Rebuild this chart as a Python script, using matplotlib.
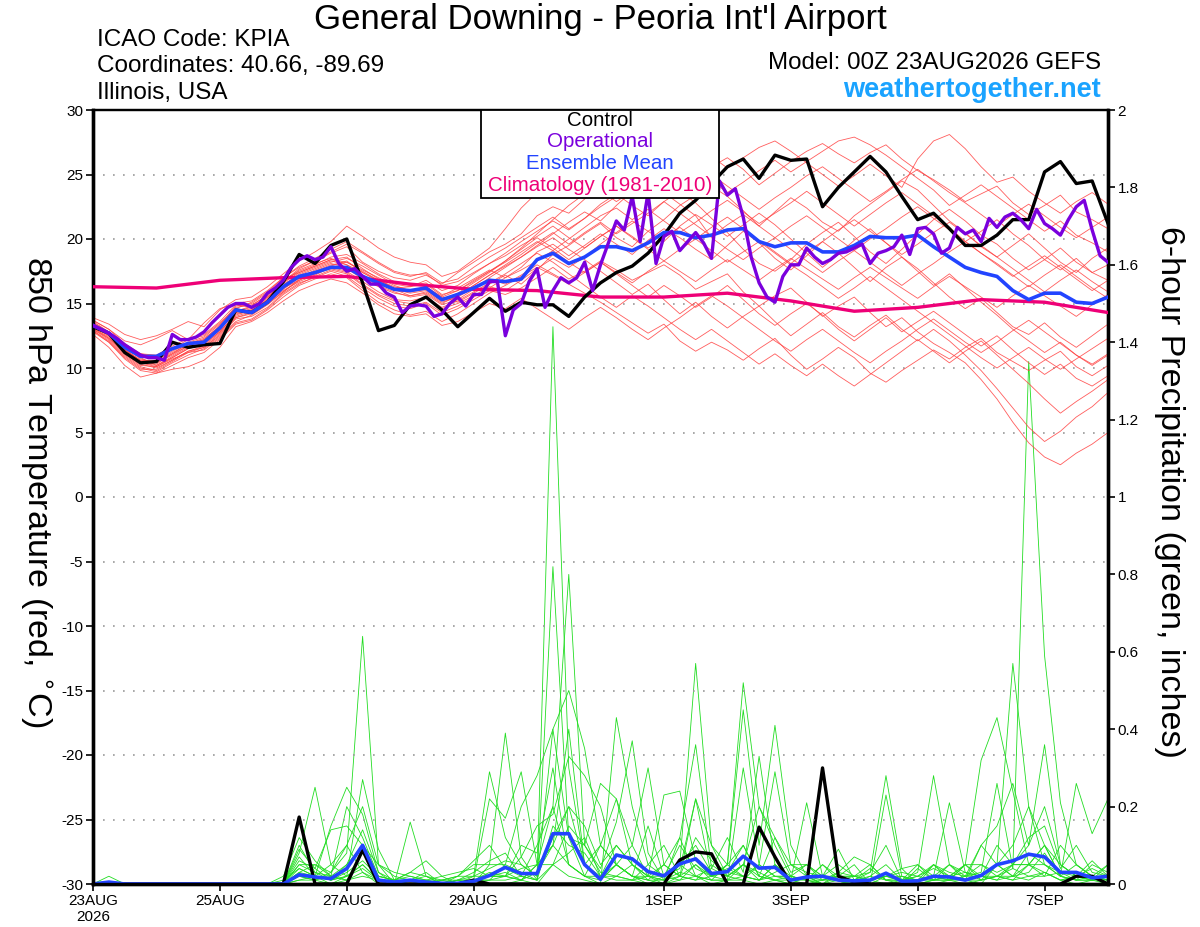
import numpy as np
import matplotlib
matplotlib.use('Agg')
import matplotlib.pyplot as plt
from matplotlib.patches import Rectangle

plt.rcParams['font.family'] = ['Liberation Sans', 'DejaVu Sans']
plt.rcParams['axes.unicode_minus'] = False

# forecast hours
hours = np.arange(65) * 6
op_hours = np.arange(129) * 3
clim_hours = np.arange(17) * 24

day_ticks = [0, 48, 96, 144, 216, 264, 312, 360]
day_labels = ['23AUG\n2026', '25AUG', '27AUG', '29AUG', '1SEP', '3SEP', '5SEP', '7SEP']

# 850 hPa temperature (C)
control_temp = [13.2, 12.7, 11.2, 10.4, 10.5, 12.0, 11.6, 11.8, 11.9, 14.5, 14.3, 15.1, 16.7,
                18.8, 18.1, 19.5, 20.0, 16.6, 12.9, 13.3, 14.9, 15.5, 14.5, 13.2, 14.3, 15.4,
                14.4, 15.1, 14.9, 14.9, 14.0, 15.5, 16.6, 17.4, 17.9, 18.9, 20.3, 22.0, 23.0,
                24.3, 25.6, 26.2, 24.7, 26.5, 26.1, 26.2, 22.5, 24.0, 25.2, 26.4, 25.2, 23.3,
                21.5, 22.0, 20.8, 19.5, 19.5, 20.3, 21.5, 21.5, 25.2, 26.0, 24.3, 24.5, 21.2]

mean_temp = [13.3, 12.7, 11.6, 10.9, 10.9, 11.5, 11.9, 12.0, 13.1, 14.5, 14.3, 15.1, 16.3,
             17.1, 17.4, 17.8, 17.8, 17.1, 16.6, 16.1, 16.0, 16.2, 15.3, 15.7, 16.2, 16.8,
             16.7, 16.9, 18.4, 18.9, 18.1, 18.6, 19.4, 19.4, 19.1, 19.7, 20.5, 20.5, 20.1,
             20.3, 20.7, 20.8, 19.8, 19.4, 19.7, 19.7, 19.0, 19.0, 19.5, 20.2, 20.1, 20.1,
             20.3, 19.4, 18.6, 17.8, 17.4, 17.1, 16.0, 15.3, 15.8, 15.8, 15.1, 15.0, 15.5]

op_temp = [13.3, 13.0, 12.7, 12.3, 11.8, 11.4, 11.0, 10.8, 10.8, 10.6, 12.6, 12.2, 12.2,
           12.4, 12.8, 13.5, 14.1, 14.7, 15.0, 15.0, 14.7, 15.0, 15.8, 16.2, 16.8, 17.8,
           18.4, 18.7, 18.4, 18.6, 19.4, 18.1, 17.5, 17.7, 17.1, 16.5, 16.5, 15.8, 15.5,
           14.3, 14.8, 14.9, 14.8, 14.0, 14.2, 15.0, 15.5, 14.8, 15.7, 15.7, 16.7, 16.7,
           12.5, 14.5, 15.0, 16.7, 17.7, 14.7, 16.0, 17.0, 16.6, 17.0, 18.2, 16.0, 18.0,
           19.7, 21.4, 20.7, 23.3, 19.8, 23.6, 18.1, 20.2, 20.6, 19.1, 19.8, 20.5, 19.7,
           18.5, 24.5, 23.4, 23.9, 21.7, 18.6, 16.6, 15.5, 15.1, 17.1, 18.0, 18.0, 19.3,
           18.6, 18.1, 18.4, 18.9, 19.0, 19.3, 19.6, 18.1, 18.9, 19.1, 19.4, 20.3, 18.8,
           20.8, 20.9, 20.4, 18.9, 19.3, 20.9, 20.4, 20.7, 19.8, 21.6, 20.9, 21.7, 22.0,
           21.5, 20.8, 22.3, 21.2, 20.8, 20.3, 21.5, 22.5, 23.0, 20.7, 18.7, 18.2]

clim_temp = [16.3, 16.2, 16.8, 17.0, 17.1, 16.5, 16.1, 16.0, 15.5, 15.5, 15.8, 15.2,
             14.4, 14.7, 15.3, 15.1, 14.3]

members_temp = [
    [13.7, 13.0, 12.1, 11.8, 12.3, 12.9, 12.2, 13.5, 14.6, 15.0, 15.2, 16.0, 17.0,
     17.8, 18.3, 18.9, 19.4, 18.2, 17.5, 17.0, 16.8, 17.2, 16.5, 17.4, 18.2, 19.0,
     19.6, 20.4, 21.8, 22.5, 22.0, 23.1, 24.2, 24.8, 23.9, 24.6, 25.4, 25.9, 24.8,
     25.6, 26.3, 25.4, 24.2, 25.1, 26.0, 26.8, 27.4, 26.6, 25.9, 26.7, 27.3, 26.2,
     25.3, 24.6, 23.8, 22.9, 23.5, 24.1, 22.8, 21.9, 22.6, 23.4, 22.1, 21.5, 20.8],
    [13.0, 12.2, 11.0, 10.1, 9.8, 10.5, 11.2, 11.6, 12.5, 13.8, 14.0, 14.7, 15.8,
     16.6, 17.0, 17.5, 17.1, 16.2, 15.4, 14.8, 14.6, 15.0, 14.1, 14.6, 15.3, 16.0,
     15.7, 16.2, 17.0, 17.8, 16.9, 17.5, 18.3, 17.6, 16.8, 17.4, 18.0, 17.2, 16.1,
     16.7, 17.3, 15.9, 14.8, 15.6, 16.2, 15.1, 14.0, 14.8, 15.5, 14.3, 13.2, 13.9,
     12.8, 11.9, 11.2, 10.4, 9.1, 7.6, 5.8, 4.2, 3.1, 2.5, 3.4, 4.1, 5.0],
    [12.8, 12.0, 10.7, 9.8, 9.6, 10.2, 10.8, 11.2, 12.2, 13.4, 13.7, 14.5, 15.5,
     16.4, 16.9, 17.3, 17.0, 16.0, 15.1, 14.5, 14.1, 14.4, 13.6, 14.2, 15.0, 15.8,
     16.4, 17.1, 17.8, 17.2, 16.5, 15.8, 15.1, 14.3, 13.5, 12.7, 13.4, 12.1, 11.3,
     12.0, 11.4, 10.6, 11.5, 12.3, 11.0, 9.9, 10.7, 11.6, 10.8, 9.6, 8.9, 9.8,
     10.6, 11.4, 10.7, 11.6, 12.3, 11.2, 10.5, 9.8, 10.6, 11.3, 10.1, 9.4, 10.2],
    [13.4, 12.6, 11.4, 10.6, 10.5, 11.2, 11.8, 12.1, 13.0, 14.3, 14.6, 15.4, 16.6,
     17.6, 18.1, 18.5, 18.0, 17.4, 16.8, 16.2, 16.3, 16.8, 16.0, 16.4, 17.3, 18.1,
     18.9, 19.8, 20.6, 21.4, 20.7, 21.6, 22.7, 23.5, 22.6, 21.8, 22.9, 23.7, 22.8,
     21.6, 20.5, 19.2, 18.1, 17.5, 18.4, 19.6, 20.5, 21.3, 20.2, 19.0, 18.1, 19.2,
     20.4, 21.5, 22.3, 21.4, 20.3, 19.6, 18.5, 17.6, 18.4, 19.3, 18.2, 17.4, 18.0],
    [13.2, 12.5, 11.5, 10.8, 10.2, 10.8, 11.5, 11.9, 12.8, 14.1, 14.5, 15.2, 16.2,
     16.8, 17.5, 18.0, 18.2, 17.6, 17.0, 16.4, 16.0, 16.3, 15.5, 15.1, 15.8, 16.5,
     17.2, 16.5, 17.6, 18.8, 19.5, 20.4, 21.2, 20.1, 19.4, 20.6, 21.5, 22.6, 23.4,
     24.1, 23.3, 22.2, 21.0, 22.1, 23.2, 22.4, 21.3, 20.6, 21.8, 22.7, 23.6, 24.5,
     23.8, 22.6, 21.4, 20.5, 19.4, 18.6, 19.5, 20.4, 19.3, 18.2, 17.4, 18.5, 19.3],
    [13.5, 12.8, 11.6, 10.7, 10.4, 11.0, 11.7, 12.2, 13.3, 14.8, 15.0, 15.8, 16.9,
     17.4, 17.9, 18.4, 18.6, 17.7, 16.9, 16.1, 15.6, 15.8, 15.0, 15.6, 16.4, 17.2,
     17.9, 18.6, 19.4, 20.1, 19.2, 18.4, 17.5, 16.6, 15.7, 16.5, 15.3, 14.2, 15.1,
     14.0, 13.1, 14.0, 14.8, 13.6, 12.5, 13.4, 14.3, 13.2, 12.4, 13.3, 14.1, 13.0,
     12.1, 13.0, 12.1, 11.0, 9.8, 8.4, 6.9, 5.4, 4.3, 5.1, 6.2, 7.0, 8.1],
    [13.1, 12.4, 11.2, 10.3, 10.0, 10.6, 11.3, 11.6, 12.6, 13.9, 14.2, 15.0, 16.1,
     17.0, 17.6, 18.1, 17.8, 17.0, 16.4, 15.9, 15.5, 15.7, 14.9, 15.3, 16.1, 17.0,
     17.8, 18.6, 19.5, 20.4, 21.3, 22.1, 21.4, 22.6, 23.7, 24.5, 23.6, 24.4, 25.3,
     24.5, 23.6, 24.4, 25.3, 26.1, 25.2, 26.0, 26.8, 27.6, 27.9, 27.3, 26.5, 25.6,
     24.7, 23.8, 22.6, 23.4, 24.2, 23.3, 22.4, 21.5, 20.6, 21.4, 20.3, 19.7, 19.0],
    [13.7, 13.0, 11.9, 11.1, 11.0, 11.7, 12.3, 12.6, 13.6, 14.9, 14.7, 15.5, 16.5,
     17.2, 17.7, 18.2, 18.5, 17.9, 17.2, 16.5, 16.3, 16.5, 15.6, 16.2, 16.9, 17.6,
     17.0, 17.8, 19.0, 19.6, 18.7, 19.5, 20.4, 19.6, 18.8, 19.9, 20.8, 20.1, 19.2,
     18.4, 19.5, 20.6, 19.7, 18.5, 17.6, 18.7, 19.8, 18.9, 17.8, 16.7, 17.8, 18.6,
     17.7, 16.6, 15.5, 14.6, 15.4, 14.3, 13.2, 12.6, 13.5, 12.4, 11.6, 12.5, 13.4],
    [12.9, 12.1, 10.9, 10.0, 9.7, 10.4, 11.0, 11.5, 12.4, 13.6, 14.1, 14.9, 15.9,
     16.9, 17.3, 17.7, 17.4, 16.5, 15.7, 15.2, 15.0, 15.4, 14.6, 15.0, 15.6, 16.3,
     16.0, 16.8, 17.7, 18.5, 17.8, 18.6, 19.6, 20.5, 21.4, 20.6, 19.8, 21.0, 21.9,
     21.1, 20.2, 21.1, 22.0, 21.1, 20.0, 18.9, 17.8, 18.8, 19.9, 20.8, 19.7, 18.6,
     17.5, 16.4, 17.3, 16.2, 15.1, 14.1, 13.0, 12.1, 11.2, 12.0, 11.0, 10.3, 11.1],
    [13.3, 12.7, 11.7, 11.1, 10.9, 11.4, 12.0, 12.4, 13.4, 14.7, 14.9, 15.6, 16.7,
     17.7, 18.3, 19.0, 19.6, 18.9, 18.1, 17.4, 17.1, 17.4, 16.6, 16.9, 17.8, 18.6,
     19.3, 20.1, 20.9, 21.7, 20.8, 21.6, 22.5, 23.3, 24.2, 25.0, 24.1, 24.9, 25.8,
     26.4, 25.5, 26.3, 27.1, 27.6, 26.8, 25.9, 25.0, 24.1, 24.9, 25.8, 24.9, 24.0,
     26.2, 27.6, 28.1, 27.0, 25.6, 24.4, 24.8, 23.7, 22.8, 22.0, 22.9, 23.6, 22.7],
    [13.0, 12.3, 11.1, 10.2, 10.1, 10.7, 11.2, 11.4, 12.3, 13.5, 13.8, 14.6, 15.7,
     16.5, 17.1, 17.6, 17.3, 16.4, 15.6, 15.0, 14.8, 15.1, 14.3, 14.8, 15.5, 16.2,
     17.0, 17.6, 18.3, 19.1, 18.2, 17.4, 18.2, 17.3, 16.4, 15.5, 16.4, 15.6, 14.7,
     15.5, 16.4, 15.3, 14.2, 13.3, 14.2, 15.0, 14.1, 13.0, 12.1, 13.0, 13.9, 12.8,
     13.6, 14.4, 13.5, 12.6, 11.7, 12.5, 11.4, 10.4, 9.5, 10.3, 9.2, 8.6, 9.4],
    [13.6, 12.8, 11.5, 10.5, 10.3, 11.1, 11.9, 12.3, 13.2, 14.4, 14.8, 15.7, 16.8,
     17.5, 18.0, 18.6, 18.8, 18.1, 17.3, 16.7, 16.4, 16.6, 15.7, 16.0, 16.8, 17.5,
     18.2, 19.0, 19.8, 19.1, 20.0, 20.9, 21.8, 22.4, 21.5, 22.3, 21.4, 20.5, 21.3,
     22.2, 23.0, 22.1, 21.2, 22.0, 22.8, 23.7, 22.8, 21.9, 21.0, 21.9, 22.8, 23.6,
     22.7, 21.8, 20.9, 19.8, 20.6, 21.5, 20.4, 19.5, 18.4, 17.6, 18.5, 17.4, 16.8],
    [13.1, 12.3, 11.2, 10.4, 10.2, 10.9, 11.6, 12.0, 12.9, 14.0, 14.4, 15.1, 16.0,
     16.7, 17.2, 17.8, 17.5, 16.7, 15.9, 15.3, 15.2, 15.5, 14.7, 15.2, 15.9, 16.6,
     17.3, 18.1, 18.9, 18.2, 17.3, 16.4, 15.5, 14.7, 15.6, 14.8, 13.9, 13.0, 12.2,
     13.0, 12.1, 11.2, 10.3, 11.1, 10.2, 9.4, 10.3, 9.4, 8.6, 9.5, 10.4, 11.3,
     12.2, 11.3, 10.4, 11.3, 12.1, 11.0, 9.9, 8.8, 7.6, 6.5, 7.4, 8.2, 9.1],
    [13.4, 12.6, 11.3, 10.4, 10.1, 10.8, 11.5, 11.8, 12.8, 14.2, 14.4, 15.3, 16.4,
     17.3, 17.8, 18.3, 18.0, 17.2, 16.6, 16.0, 15.9, 16.1, 15.3, 15.8, 16.6, 17.4,
     18.3, 19.3, 20.4, 21.5, 22.6, 23.5, 24.4, 25.1, 24.2, 23.3, 24.2, 25.0, 25.9,
     25.0, 24.1, 23.2, 22.3, 23.2, 24.0, 24.9, 25.6, 24.7, 23.8, 22.9, 23.7, 24.6,
     25.4, 24.5, 23.6, 22.8, 21.9, 21.0, 21.9, 22.7, 21.8, 20.9, 20.1, 20.9, 21.7],
    [13.2, 12.5, 11.4, 10.6, 10.6, 11.3, 11.9, 12.2, 13.0, 14.3, 14.5, 15.3, 16.3,
     17.0, 17.4, 17.9, 17.7, 16.9, 16.3, 15.8, 15.6, 15.9, 15.1, 15.5, 16.2, 16.9,
     16.5, 17.2, 18.0, 17.3, 16.6, 17.4, 18.2, 17.4, 16.6, 17.5, 18.3, 17.5, 16.7,
     17.6, 18.4, 17.6, 16.8, 17.7, 18.5, 17.7, 16.9, 16.1, 17.0, 17.8, 17.0, 16.2,
     15.4, 16.3, 17.1, 16.3, 15.5, 14.7, 15.6, 16.4, 15.6, 14.8, 14.0, 14.9, 15.7],
    [13.5, 12.7, 11.6, 10.9, 10.7, 11.5, 12.2, 12.5, 13.5, 14.6, 15.1, 15.9, 17.0,
     17.9, 18.5, 19.2, 19.8, 19.0, 18.2, 17.5, 17.2, 17.3, 16.4, 16.7, 17.4, 18.1,
     18.7, 19.5, 20.2, 21.0, 20.1, 19.3, 20.2, 21.0, 20.2, 19.3, 20.1, 20.9, 20.0,
     19.1, 18.2, 19.0, 19.8, 18.9, 18.0, 17.2, 16.3, 15.4, 16.2, 17.1, 16.2, 15.3,
     14.4, 13.5, 12.6, 11.7, 10.8, 10.0, 10.8, 11.6, 10.7, 9.9, 10.7, 11.5, 12.3],
    [12.9, 12.0, 10.8, 9.9, 9.9, 10.6, 11.3, 11.7, 12.7, 13.9, 14.3, 15.0, 15.9,
     16.8, 17.3, 17.9, 18.3, 17.4, 16.7, 16.1, 15.8, 16.0, 15.2, 15.6, 16.4, 17.2,
     18.0, 18.8, 19.7, 20.5, 19.6, 20.5, 21.3, 20.4, 21.2, 22.0, 22.9, 22.0, 21.1,
     20.2, 21.1, 21.9, 21.0, 20.1, 21.0, 21.8, 20.9, 20.0, 19.1, 20.0, 20.8, 21.7,
     22.5, 21.6, 20.7, 19.8, 18.9, 18.1, 17.2, 16.3, 17.2, 18.0, 17.1, 16.2, 15.4],
    [13.9, 13.4, 12.6, 12.2, 12.5, 13.0, 13.6, 13.2, 14.5, 15.3, 15.5, 16.3, 17.3,
     18.3, 19.0, 19.8, 21.0, 20.2, 19.3, 18.6, 18.2, 18.0, 17.1, 17.5, 18.4, 19.3,
     20.8, 22.4, 23.6, 24.8, 25.6, 24.7, 23.8, 22.9, 23.7, 24.5, 23.6, 22.7, 21.8,
     20.1, 19.2, 18.4, 19.3, 20.1, 19.2, 18.3, 17.4, 18.3, 19.1, 18.2, 17.3, 16.4,
     17.3, 18.1, 19.0, 19.8, 18.9, 18.0, 17.1, 17.9, 18.7, 17.8, 16.9, 16.0, 16.8],
    [12.6, 11.6, 10.2, 9.3, 9.6, 9.9, 10.1, 10.6, 11.6, 13.2, 13.6, 14.3, 15.2,
     16.0, 16.5, 16.9, 16.6, 15.8, 14.9, 14.2, 14.0, 14.2, 13.3, 13.6, 14.3, 15.0,
     14.6, 15.4, 14.6, 13.8, 13.0, 13.9, 14.7, 13.9, 13.0, 12.2, 13.1, 13.9, 14.8,
     15.6, 14.8, 13.9, 13.0, 12.1, 11.3, 12.2, 13.0, 12.1, 11.2, 10.4, 11.3, 12.1,
     13.0, 13.8, 12.9, 12.0, 11.2, 12.0, 12.9, 13.7, 12.8, 11.9, 11.0, 10.2, 11.0],
    [13.3, 12.6, 11.4, 10.5, 10.5, 11.1, 11.7, 12.1, 13.0, 14.4, 14.7, 15.5, 16.6,
     17.4, 17.9, 18.4, 18.2, 17.5, 16.8, 16.3, 16.0, 16.3, 15.5, 16.0, 16.7, 17.5,
     18.3, 19.2, 20.1, 19.3, 18.4, 19.3, 20.2, 21.0, 20.1, 19.2, 18.3, 19.2, 20.0,
     20.9, 21.7, 20.8, 19.9, 19.0, 18.1, 19.0, 19.8, 20.7, 21.5, 20.6, 19.7, 18.8,
     19.6, 20.5, 21.3, 20.4, 19.5, 18.6, 17.7, 16.8, 15.9, 16.8, 17.6, 16.7, 15.9],
]

# 6-hour precipitation (inches)
control_precip = [0, 0, 0, 0, 0, 0, 0, 0, 0, 0, 0, 0, 0,
                  0.173, 0, 0, 0, 0.088, 0, 0, 0, 0, 0, 0, 0.01, 0,
                  0, 0, 0, 0, 0, 0, 0, 0, 0, 0, 0, 0.062, 0.083,
                  0.078, 0, 0, 0.147, 0.07, 0, 0, 0.30, 0.02, 0.005, 0, 0, 0,
                  0, 0, 0, 0, 0, 0, 0, 0, 0, 0, 0.02, 0.02, 0]

mean_precip = [0, 0.005, 0, 0, 0, 0, 0, 0, 0, 0, 0, 0, 0,
               0.024, 0.018, 0.014, 0.04, 0.10, 0.01, 0.005, 0.01, 0.005, 0.002, 0.002, 0.007, 0.022,
               0.043, 0.027, 0.027, 0.13, 0.13, 0.05, 0.012, 0.075, 0.065, 0.032, 0.021, 0.052, 0.065,
               0.027, 0.032, 0.072, 0.041, 0.043, 0.01, 0.018, 0.02, 0.01, 0.008, 0.01, 0.028, 0.007,
               0.008, 0.02, 0.018, 0.01, 0.022, 0.05, 0.06, 0.077, 0.07, 0.03, 0.03, 0.016, 0.02]

members_precip = [
    [0, 0, 0, 0, 0, 0, 0, 0, 0, 0, 0, 0, 0,
     0.02, 0.01, 0.03, 0.08, 0.64, 0.05, 0, 0.01, 0.03, 0, 0, 0.02, 0.29,
     0.12, 0.05, 0.02, 1.44, 0.3, 0.05, 0.01, 0.05, 0.1, 0.02, 0, 0.05, 0.57,
     0.1, 0.02, 0.05, 0.03, 0.01, 0, 0.02, 0, 0, 0.01, 0.03, 0.28, 0.04,
     0, 0.01, 0.05, 0.02, 0.1, 0.15, 0.26, 0.1, 0.36, 0.05, 0.02, 0.06, 0.02],
    [0, 0.02, 0, 0, 0, 0, 0, 0, 0, 0, 0, 0, 0,
     0.08, 0.25, 0.05, 0.02, 0.27, 0.09, 0.01, 0, 0, 0.01, 0.02, 0.05, 0.05,
     0.39, 0.07, 0.01, 0.82, 0.12, 0.02, 0, 0.43, 0.2, 0.05, 0.02, 0.1, 0.04,
     0.02, 0.05, 0.52, 0.2, 0.1, 0.02, 0.01, 0.05, 0.02, 0, 0.01, 0, 0.01,
     0.03, 0.28, 0.05, 0.01, 0, 0.05, 0.57, 0.2, 0.05, 0.02, 0.01, 0.01, 0.05],
    [0, 0, 0, 0, 0, 0, 0, 0, 0, 0, 0, 0, 0.01,
     0.04, 0.02, 0.15, 0.25, 0.18, 0.03, 0, 0.16, 0.02, 0, 0.01, 0.01, 0.22,
     0.17, 0.29, 0.05, 0.2, 0.8, 0.1, 0.04, 0.16, 0.37, 0.08, 0.01, 0.05, 0.02,
     0.04, 0.12, 0.03, 0.33, 0.05, 0.01, 0.21, 0.02, 0.01, 0.01, 0, 0.23, 0.02,
     0.01, 0.02, 0.21, 0.03, 0.02, 0.02, 0.04, 1.35, 0.59, 0.21, 0.05, 0.02, 0.01],
    [0, 0, 0, 0, 0, 0, 0, 0, 0, 0, 0, 0, 0.02,
     0.12, 0.06, 0.02, 0.2, 0.12, 0.02, 0.01, 0.03, 0.06, 0.02, 0, 0, 0.05,
     0.05, 0.2, 0.28, 0.4, 0.5, 0.35, 0.1, 0.22, 0.1, 0.3, 0.05, 0.02, 0.22,
     0.1, 0.05, 0.45, 0.1, 0.41, 0.1, 0.02, 0, 0.03, 0.07, 0.05, 0.01, 0,
     0.04, 0.01, 0.02, 0.05, 0.32, 0.43, 0.24, 0.05, 0.1, 0.02, 0.26, 0.13, 0.22],
    [0, 0, 0, 0, 0, 0, 0, 0, 0, 0, 0, 0, 0,
     0.06, 0.04, 0.14, 0.15, 0.1, 0.05, 0.03, 0.02, 0.01, 0.02, 0.03, 0.04, 0.02,
     0.02, 0.07, 0.15, 0.18, 0.33, 0.28, 0.2, 0.05, 0.02, 0.02, 0.23, 0.24, 0.06,
     0.02, 0.01, 0.3, 0.05, 0.29, 0.05, 0.03, 0.02, 0.09, 0.01, 0.02, 0.05, 0.01,
     0, 0.01, 0.01, 0.02, 0.03, 0.26, 0.04, 0.02, 0.02, 0.1, 0.05, 0.02, 0.01],
    [0, 0, 0, 0, 0, 0, 0, 0, 0, 0, 0, 0, 0,
     0.05, 0.05, 0.03, 0.1, 0.2, 0.05, 0.02, 0.01, 0.01, 0, 0.02, 0.06, 0.1,
     0.04, 0.02, 0.01, 0.4, 0.12, 0.1, 0.26, 0.22, 0.05, 0.02, 0.01, 0.12, 0.36,
     0.04, 0.02, 0.05, 0.2, 0.12, 0.05, 0.05, 0.01, 0.02, 0.05, 0, 0.02, 0.03,
     0.02, 0.05, 0.01, 0.05, 0.02, 0.01, 0.02, 0.05, 0.05, 0.03, 0.02, 0.01, 0.02],
    [0, 0, 0, 0, 0, 0, 0, 0, 0, 0, 0, 0, 0,
     0.1, 0.03, 0.02, 0.05, 0.14, 0.03, 0.01, 0.03, 0.02, 0, 0.01, 0.03, 0.06,
     0.08, 0.02, 0.1, 0.2, 0.05, 0.02, 0.1, 0.05, 0.02, 0, 0.02, 0.04, 0.22,
     0.02, 0.03, 0.1, 0.02, 0.12, 0.03, 0.05, 0.02, 0.02, 0.02, 0.01, 0.02, 0.04,
     0.05, 0.02, 0.05, 0.03, 0.01, 0.05, 0.1, 0.2, 0.1, 0.02, 0.05, 0.02, 0.05],
    [0, 0, 0, 0, 0, 0, 0, 0, 0, 0, 0, 0, 0,
     0.03, 0.02, 0, 0.02, 0.05, 0.01, 0, 0, 0, 0, 0, 0.01, 0.02,
     0.03, 0.01, 0.05, 0.1, 0.4, 0.05, 0.02, 0.05, 0.02, 0.01, 0, 0.02, 0.05,
     0.01, 0.05, 0.02, 0.01, 0.03, 0.05, 0.02, 0.01, 0.03, 0.02, 0.03, 0.1, 0.01,
     0.01, 0.05, 0.02, 0.01, 0.1, 0.05, 0.02, 0.03, 0.08, 0.02, 0.01, 0.05, 0.03],
    [0, 0, 0, 0, 0, 0, 0, 0, 0, 0, 0, 0, 0,
     0.09, 0.04, 0.01, 0.05, 0.1, 0.01, 0.01, 0.02, 0.01, 0.01, 0.02, 0.02, 0.04,
     0.06, 0.05, 0.02, 0.12, 0.2, 0.15, 0.05, 0.1, 0.05, 0.01, 0.01, 0.02, 0.12,
     0.06, 0.03, 0.02, 0.05, 0.02, 0.02, 0.01, 0.05, 0.01, 0.01, 0.04, 0.01, 0.02,
     0, 0.05, 0.03, 0.02, 0.05, 0.03, 0.05, 0.12, 0.15, 0.04, 0.1, 0.03, 0.02],
    [0, 0, 0, 0, 0, 0, 0, 0, 0, 0, 0, 0, 0,
     0.07, 0.02, 0.01, 0.03, 0.06, 0.02, 0.01, 0.01, 0, 0.01, 0.01, 0.02, 0.02,
     0.02, 0.04, 0.05, 0.05, 0.15, 0.1, 0.03, 0.02, 0.01, 0.05, 0.1, 0.02, 0.01,
     0.02, 0.04, 0.02, 0.01, 0.02, 0.01, 0, 0.01, 0.02, 0.01, 0.01, 0.02, 0.01,
     0.02, 0.04, 0.02, 0.03, 0.02, 0.1, 0.05, 0.05, 0.02, 0.03, 0.01, 0.02, 0.01],
    [0, 0, 0, 0, 0, 0, 0, 0, 0, 0, 0, 0, 0,
     0.04, 0.02, 0.01, 0.02, 0.04, 0.01, 0, 0, 0, 0, 0, 0.01, 0.01,
     0.05, 0.03, 0.01, 0.05, 0.08, 0.12, 0.02, 0.01, 0.01, 0.02, 0.05, 0.12, 0.02,
     0.01, 0.01, 0.02, 0.01, 0.05, 0.02, 0.01, 0, 0.01, 0, 0.02, 0.01, 0.01,
     0.01, 0.02, 0.01, 0.01, 0.02, 0.05, 0.02, 0.01, 0.03, 0.01, 0.02, 0.01, 0.02],
    [0, 0, 0, 0, 0, 0, 0, 0, 0, 0, 0, 0, 0,
     0.01, 0.01, 0.02, 0.01, 0.08, 0.02, 0.01, 0, 0, 0, 0.01, 0, 0.01,
     0.02, 0.1, 0.08, 0.3, 0.05, 0.02, 0.01, 0.05, 0.02, 0.15, 0.02, 0.01, 0.05,
     0.02, 0.05, 0.1, 0.02, 0.01, 0.02, 0.05, 0.02, 0.05, 0.02, 0.01, 0.02, 0.01,
     0.02, 0.01, 0.02, 0.05, 0.01, 0.02, 0.05, 0.1, 0.2, 0.05, 0.02, 0.04, 0.02],
    [0, 0, 0, 0, 0, 0, 0, 0, 0, 0, 0, 0, 0,
     0.02, 0.01, 0, 0.01, 0.03, 0, 0, 0, 0, 0, 0, 0, 0,
     0, 0.01, 0, 0.05, 0.02, 0.01, 0, 0.02, 0.01, 0, 0, 0.01, 0.02,
     0, 0.01, 0.01, 0, 0.01, 0, 0, 0, 0, 0.01, 0, 0, 0,
     0, 0, 0.01, 0, 0.01, 0.02, 0.01, 0.02, 0.03, 0.01, 0, 0.01, 0],
    [0, 0, 0, 0, 0, 0, 0, 0, 0, 0, 0, 0, 0,
     0.03, 0.05, 0.02, 0.01, 0.02, 0.01, 0, 0.01, 0.02, 0.01, 0, 0.01, 0.03,
     0.02, 0.01, 0.03, 0.1, 0.2, 0.05, 0.1, 0.05, 0.02, 0.01, 0.05, 0.02, 0.01,
     0.05, 0.02, 0.01, 0.05, 0.02, 0.02, 0.01, 0.01, 0.01, 0.02, 0.05, 0.01, 0.01,
     0.05, 0.01, 0.01, 0.02, 0.02, 0.01, 0.05, 0.05, 0.1, 0.05, 0.02, 0.02, 0.01],
    [0, 0, 0, 0, 0, 0, 0, 0, 0, 0, 0, 0, 0,
     0.05, 0.03, 0.01, 0.02, 0.05, 0.01, 0, 0, 0.01, 0, 0, 0.01, 0.01,
     0.01, 0.02, 0.01, 0.15, 0.1, 0.08, 0.02, 0.02, 0.05, 0.02, 0.01, 0.03, 0.02,
     0.01, 0.01, 0.05, 0.02, 0.01, 0.01, 0.02, 0, 0, 0.01, 0.01, 0.02, 0.02,
     0.01, 0.01, 0.02, 0.01, 0.01, 0.02, 0.02, 0.08, 0.05, 0.02, 0.01, 0.01, 0.01],
    [0, 0, 0, 0, 0, 0, 0, 0, 0, 0, 0, 0, 0,
     0.01, 0.02, 0.05, 0.1, 0.03, 0.01, 0, 0, 0, 0, 0.01, 0.01, 0.02,
     0.02, 0.01, 0.05, 0.1, 0.05, 0.02, 0.02, 0.1, 0.05, 0.02, 0.02, 0.05, 0.1,
     0.03, 0.02, 0.05, 0.01, 0.05, 0.01, 0.01, 0, 0.02, 0.02, 0.01, 0.02, 0.01,
     0.01, 0.02, 0.01, 0.05, 0.05, 0.02, 0.01, 0.05, 0.03, 0.01, 0.02, 0.01, 0.02],
]

prec_ticks = [0, 0.2, 0.4, 0.6, 0.8, 1.0, 1.2, 1.4, 1.6, 1.8, 2.0]
prec_labels = ['0', '0.2', '0.4', '0.6', '0.8', '1', '1.2', '1.4', '1.6', '1.8', '2']

fig = plt.figure(figsize=(12, 9.27), dpi=100)
ax = fig.add_axes([93 / 1200, 43 / 927, 1015 / 1200, 774 / 927])
ax2 = ax.twinx()

# precipitation (right axis), drawn underneath the temperature
for m in members_precip:
    ax2.plot(hours, m, color='#22dd22', lw=0.6)
ax2.plot(hours, control_precip, color='black', lw=2.4, zorder=5)
ax2.plot(hours, mean_precip, color='#2244ff', lw=2.6, zorder=6)
ax2.set_ylim(0, 2)
ax2.set_yticks(prec_ticks)
ax2.set_yticklabels(prec_labels)

ax.set_zorder(ax2.get_zorder() + 1)
ax.patch.set_visible(False)

for m in members_temp:
    ax.plot(hours, m, color='#ff4040', lw=0.6, alpha=0.85)
ax.plot(clim_hours, clim_temp, color='#ee0077', lw=2.4, zorder=4)
ax.plot(hours, control_temp, color='black', lw=2.4, zorder=5)
ax.plot(hours, mean_temp, color='#2244ff', lw=2.6, zorder=6)
ax.plot(op_hours, op_temp, color='#7a00dd', lw=2.4, zorder=7)

ax.set_xlim(0, 384)
ax.set_ylim(-30, 30)
ax.set_yticks(np.arange(-30, 31, 5))
ax.yaxis.grid(True, linestyle=(0, (1, 5)), color='#999999', lw=1.2)
ax.set_xticks(day_ticks)
ax.set_xticklabels(day_labels)

for a in (ax, ax2):
    a.tick_params(labelsize=11, length=5, width=1.2, direction='out', pad=2)
    for s in ('left', 'right', 'bottom'):
        a.spines[s].set_linewidth(2.4)
    a.spines['top'].set_linewidth(1.6)

# legend box
ax.add_patch(Rectangle((0.382, 0.886), 0.235, 0.114, transform=ax.transAxes,
                       facecolor='white', edgecolor='black', lw=1.3, zorder=20,
                       clip_on=False))
leg_items = [('Control', 'black'), ('Operational', '#7a00dd'),
             ('Ensemble Mean', '#2244ff'), ('Climatology (1981-2010)', '#ee0077')]
leg_y = [0.9858, 0.9587, 0.9315, 0.9031]
for (txt, col), yy in zip(leg_items, leg_y):
    ax.text(0.4995, yy, txt, color=col, fontsize=14.8, ha='center', va='center',
            transform=ax.transAxes, zorder=21)

# headers
fig.text(0.5, 1 - 19 / 927, "General Downing - Peoria Int'l Airport",
         fontsize=25, ha='center', va='center')
fig.text(97 / 1200, 1 - 40 / 927, 'ICAO Code: KPIA', fontsize=17.5, va='center')
fig.text(97 / 1200, 1 - 66 / 927, 'Coordinates: 40.66, -89.69', fontsize=17.5, va='center')
fig.text(97 / 1200, 1 - 93 / 927, 'Illinois, USA', fontsize=17.5, va='center')
fig.text(1101 / 1200, 1 - 63 / 927, 'Model: 00Z 23AUG2026 GEFS', fontsize=17.4,
         ha='right', va='center')
fig.text(1101 / 1200, 1 - 90 / 927, 'weathertogether.net', fontsize=19.5,
         fontweight='bold', color='#1aa3ff', ha='right', va='center')

fig.text(35 / 1200, 1 - 492 / 927, '850 hPa Temperature (red, $^{\\circ}$C)',
         fontsize=24.5, rotation=-90, ha='center', va='center')
fig.text(1170 / 1200, 1 - 492 / 927, '6-hour Precipitation (green, inches)',
         fontsize=24.5, rotation=-90, ha='center', va='center')

fig.savefig('out.png', dpi=100)
